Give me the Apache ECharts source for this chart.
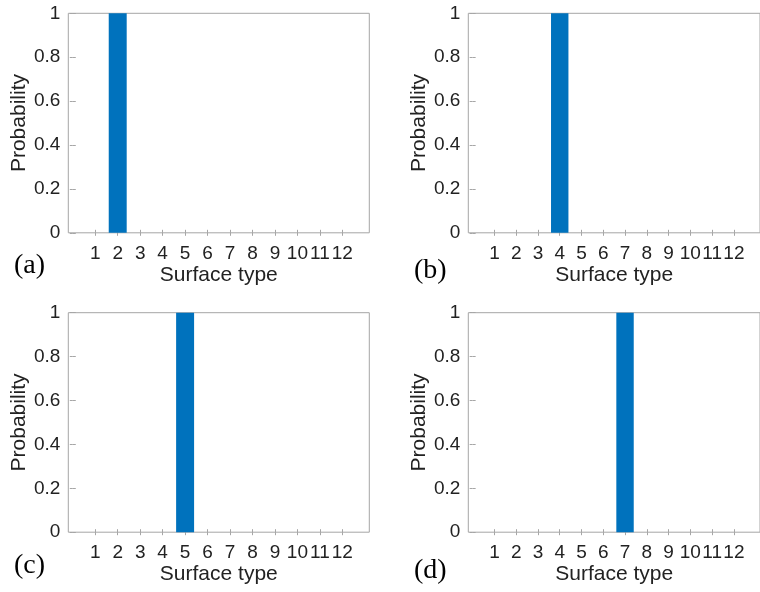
<!DOCTYPE html>
<html>
<head>
<meta charset="utf-8">
<script src="https://cdn.jsdelivr.net/npm/echarts@6/dist/echarts.min.js"></script>
<style>
html,body{margin:0;padding:0;background:#fff;}
#chart{width:760px;height:592px;}
</style>
</head>
<body>
<div id="chart"></div>
<script>
const surfaceTypes = [1,2,3,4,5,6,7,8,9,10,11,12];
const probA = [0,1,0,0,0,0,0,0,0,0,0,0];
const probB = [0,0,0,1,0,0,0,0,0,0,0,0];
const probC = [0,0,0,0,1,0,0,0,0,0,0,0];
const probD = [0,0,0,0,0,0,1,0,0,0,0,0];
const panelLabels = ['(a)','(b)','(c)','(d)'];
const yTicks = [0,0.2,0.4,0.6,0.8,1];
const xLabelName = 'Surface type';
const yLabelName = 'Probability';

const series = [probA, probB, probC, probD];
const FONT = '"Liberation Sans", Arial, Helvetica, sans-serif';
const TXT = '#222222';
const LINE = '#a6a6a6';

const gridPos = [
  {left: 68.3, top: 13.3},
  {left: 468.3, top: 13.3},
  {left: 68.3, top: 312.7},
  {left: 468.3, top: 312.7}
];
const labelPos = [
  {x: 14, y: 267},
  {x: 414, y: 272},
  {x: 14, y: 567},
  {x: 414, y: 572}
];

const grids = [], xAxes = [], yAxes = [], seriesOpts = [], graphics = [];
gridPos.forEach((g, i) => {
  grids.push({left: g.left, top: g.top, width: 301, height: 219.5,
    show: true, borderColor: LINE, borderWidth: 1, backgroundColor: '#fff'});
  xAxes.push({
    type: 'value', gridIndex: i, position: 'bottom', min: -0.2, max: 13.2,
    name: xLabelName, nameLocation: 'middle', nameGap: 32,
    nameTextStyle: {color: TXT, fontSize: 21, fontFamily: FONT},
    axisLine: {show: false},
    axisTick: {show: true, inside: true, length: 3, customValues: surfaceTypes, lineStyle: {color: LINE}},
    axisLabel: {show: true, customValues: surfaceTypes, margin: 11, color: TXT, fontSize: 19, fontFamily: FONT},
    splitLine: {show: false}
  });
  xAxes.push({
    type: 'value', gridIndex: i, position: 'top', min: -0.2, max: 13.2,
    axisLine: {show: false},
    axisTick: {show: true, inside: true, length: 3, customValues: surfaceTypes, lineStyle: {color: LINE}},
    axisLabel: {show: false},
    splitLine: {show: false}
  });
  yAxes.push({
    type: 'value', gridIndex: i, position: 'left', min: 0, max: 1, interval: 0.2,
    name: yLabelName, nameLocation: 'middle', nameGap: 36,
    nameTextStyle: {color: TXT, fontSize: 21, fontFamily: FONT},
    axisLine: {show: false},
    axisTick: {show: true, inside: true, length: 3, lineStyle: {color: LINE}},
    axisLabel: {show: true, margin: 8, color: TXT, fontSize: 19, fontFamily: FONT,
      formatter: v => String(Math.round(v*10)/10)},
    splitLine: {show: false}
  });
  yAxes.push({
    type: 'value', gridIndex: i, position: 'right', min: 0, max: 1, interval: 0.2,
    axisLine: {show: false},
    axisTick: {show: true, inside: true, length: 3, lineStyle: {color: LINE}},
    axisLabel: {show: false},
    splitLine: {show: false}
  });
  seriesOpts.push({
    type: 'bar', xAxisIndex: 2*i, yAxisIndex: 2*i,
    data: surfaceTypes.map((t, k) => [t, series[i][k]]),
    barWidth: '80%',
    itemStyle: {color: '#0072BD'},
    silent: true
  });
  graphics.push({
    type: 'text', left: labelPos[i].x, top: labelPos[i].y - 15,
    style: {text: panelLabels[i], fill: '#000', font: '28px "Liberation Serif", "Times New Roman", serif'}
  });
});

const chart = echarts.init(document.getElementById('chart'), null, {renderer: 'canvas'});
chart.setOption({
  animation: false,
  backgroundColor: '#fff',
  grid: grids,
  xAxis: xAxes,
  yAxis: yAxes,
  series: seriesOpts,
  graphic: graphics
});
</script>
</body>
</html>
